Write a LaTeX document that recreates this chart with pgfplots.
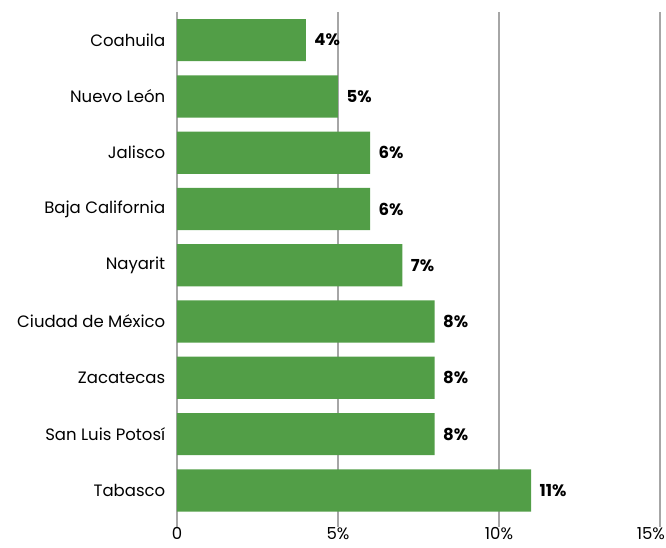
\documentclass[border=0pt]{standalone}
\usepackage{fontspec}
\setmainfont{Poppins}
\usepackage{pgfplots}
\pgfplotsset{compat=1.18}
\definecolor{bargreen}{HTML}{529E47}
\definecolor{gridgray}{HTML}{A6A6A6}
\begin{document}
\begin{tikzpicture}
\begin{axis}[
    name=ax,
    scale only axis,
    width=483pt, height=515pt,
    xbar, bar width=0.75,
    y dir=reverse,
    xmin=0, xmax=15,
    ymin=-0.5, ymax=8.65,
    axis line style={draw=none},
    ytick={0,...,8},
    yticklabels={Coahuila,Nuevo León,Jalisco,Baja California,Nayarit,Ciudad de México,Zacatecas,San Luis Potosí,Tabasco},
    xtick={0,5,10,15},
    xticklabels={0,5\%,10\%,\makebox[0pt][r]{15\%\kern-5pt}},
    xmajorgrids,
    major grid style={gridgray, line width=1.2pt},
    tick style={draw=none},
    ticklabel style={font=\fontsize{16.5}{19}\selectfont},
    yticklabel style={xshift=-4pt},
    xticklabel style={yshift=3pt},
    xticklabel pos=lower,
    yticklabel pos=left,
    nodes near coords={\textbf{\pgfmathprintnumber[assume math mode=true]{\pgfplotspointmeta}\%}},
    nodes near coords style={font=\fontsize{16.5}{19}\selectfont, xshift=5pt, black},
    clip=false,
]
\addplot[fill=bargreen, draw=none] coordinates {
(4,0) (5,1) (6,2) (6,3) (7,4) (8,5) (8,6) (8,7) (11,8)
};
\end{axis}
\pgfresetboundingbox
\path[use as bounding box] ([shift={(-177pt,12pt)}]ax.north west) rectangle ++(666pt,-548pt);
\end{tikzpicture}
\end{document}
